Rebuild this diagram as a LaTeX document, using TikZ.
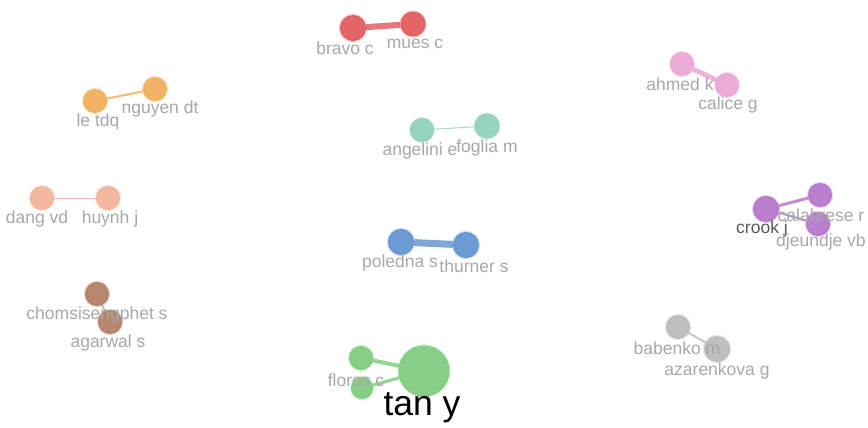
\documentclass[tikz,border=0pt]{standalone}
\usepackage{fontspec}
\setmainfont{Liberation Sans}
\usetikzlibrary{backgrounds}
\definecolor{cred}{RGB}{222,62,66}
\definecolor{corange}{RGB}{240,160,62}
\definecolor{cpink}{RGB}{232,150,205}
\definecolor{cteal}{RGB}{125,202,175}
\definecolor{csalmon}{RGB}{242,165,135}
\definecolor{cpurple}{RGB}{170,95,195}
\definecolor{cblue}{RGB}{72,130,200}
\definecolor{cbrown}{RGB}{165,105,75}
\definecolor{cgray}{RGB}{175,175,175}
\definecolor{cgreen}{RGB}{105,195,105}
\definecolor{ltext}{RGB}{168,168,168}
\begin{document}
\begin{tikzpicture}[x=1pt,y=-1pt,
  bub/.style 2 args={circle, inner sep=0pt, minimum size=#2, fill=#1, fill opacity=0.8,
    preaction={draw=#1, line width=2.5pt, draw opacity=0.25}},
  lab/.style={text=ltext, font=\fontsize{17.5}{17.5}\selectfont, inner sep=0pt},
  lnk/.style 2 args={draw=#1, line width=#2, draw opacity=0.7}]
\begin{scope}[on background layer]
\fill[white] (0,0) rectangle (868,428);
\end{scope}
% red
\node[bub={cred}{26pt}] (bravo) at (353,28) {};
\node[bub={cred}{25pt}] (mues) at (413,24) {};
\node[lab] (lbravo) at (345,48) {bravo c};
\node[lab] (lmues) at (415,44) {mues c};
% orange
\node[bub={corange}{24pt}] (le) at (95,101) {};
\node[bub={corange}{24pt}] (nguyen) at (155,89) {};
\node[lab] (lle) at (98,122) {le tdq};
\node[lab] (lnguyen) at (160,109) {nguyen dt};
% pink
\node[bub={cpink}{24pt}] (ahmed) at (682,64) {};
\node[bub={cpink}{24pt}] (calice) at (727,85) {};
\node[lab] (lahmed) at (680,84) {ahmed k};
\node[lab] (lcalice) at (728,105) {calice g};
% teal
\node[bub={cteal}{24pt}] (angelini) at (422,130) {};
\node[bub={cteal}{25pt}] (foglia) at (487,126) {};
\node[lab] (langelini) at (420,151) {angelini e};
\node[lab] (lfoglia) at (487,148) {foglia m};
% salmon
\node[bub={csalmon}{24pt}] (dang) at (42,198) {};
\node[bub={csalmon}{24pt}] (huynh) at (108,198) {};
\node[lab] (ldang) at (37,219) {dang vd};
\node[lab] (lhuynh) at (110,219) {huynh j};
% purple
\node[bub={cpurple}{26pt}] (crook) at (766,209) {};
\node[bub={cpurple}{24pt}] (calabrese) at (820,195) {};
\node[bub={cpurple}{24pt}] (djeundje) at (818,224) {};
\node[lab] (lcalabrese) at (821,215) {calabrese r};
\node[lab, text={rgb,255:red,90;green,90;blue,90}] (lcrook) at (762,229) {crook j};
\node[lab] (ldjeundje) at (821,242) {djeundje vb};
% blue
\node[bub={cblue}{26pt}] (poledna) at (401,242) {};
\node[bub={cblue}{26pt}] (thurner) at (466,245) {};
\node[lab] (lpoledna) at (400,263) {poledna s};
\node[lab] (lthurner) at (474,266) {thurner s};
% brown
\node[bub={cbrown}{24pt}] (chom) at (97,294) {};
\node[bub={cbrown}{24pt}] (agarwal) at (110,322) {};
\node[lab] (lchom) at (97,315) {chomsisengphet s};
\node[lab] (lagarwal) at (108,343) {agarwal s};
% gray
\node[bub={cgray}{24pt}] (babenko) at (678,327) {};
\node[bub={cgray}{26pt}] (azarenkova) at (717,349) {};
\node[lab] (lbabenko) at (677,348) {babenko m};
\node[lab] (lazarenkova) at (717,371) {azarenkova g};
% green
\node[bub={cgreen}{51pt}] (tan) at (424,371) {};
\node[bub={cgreen}{24pt}] (floros) at (361,358) {};
\node[bub={cgreen}{22pt}] (flower) at (362,388) {};
\node[lab] (lfloros) at (356,380) {floros c};
\node[text=black, font=\fontsize{35.5}{35.5}\selectfont, inner sep=0pt] (ltan) at (422,408) {tan y};
% links
\begin{scope}[on background layer]
\draw[lnk={cred}{6pt}] (bravo) -- (mues);
\draw[lnk={corange}{2pt}] (le) -- (nguyen);
\draw[lnk={cpink}{5pt}] (ahmed) -- (calice);
\draw[lnk={cteal}{1pt}] (angelini) -- (foglia);
\draw[lnk={csalmon}{1pt}] (dang) -- (huynh);
\draw[lnk={cpurple}{3pt}] (crook) -- (calabrese);
\draw[lnk={cpurple}{2pt}] (crook) -- (djeundje);
\draw[lnk={cblue}{7pt}] (poledna) -- (thurner);
\draw[lnk={cbrown}{1pt}] (chom) -- (agarwal);
\draw[lnk={cgray}{2pt}] (babenko) -- (azarenkova);
\draw[lnk={cgreen}{4pt}] (floros) -- (tan);
\draw[lnk={cgreen}{3pt}] (flower) -- (tan);
\end{scope}
\end{tikzpicture}
\end{document}
